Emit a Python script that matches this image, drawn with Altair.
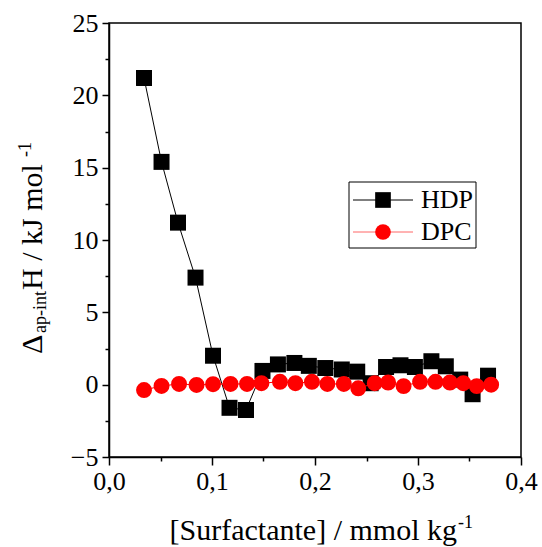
import altair as alt
import pandas as pd

hdp_x = [0.034, 0.051, 0.067, 0.084, 0.101, 0.117, 0.133, 0.149, 0.164, 0.180, 0.194, 0.210,
         0.226, 0.241, 0.254, 0.269, 0.283, 0.297, 0.313, 0.327, 0.341, 0.353, 0.368]
hdp_y = [21.2, 15.4, 11.2, 7.4, 2.0, -1.6, -1.75, 0.95, 1.4, 1.5, 1.3, 1.15,
         1.05, 0.9, 0.1, 1.22, 1.34, 1.22, 1.62, 1.27, 0.35, -0.66, 0.62]

dpc_x = [0.034, 0.051, 0.068, 0.085, 0.101, 0.118, 0.134, 0.148, 0.166, 0.181, 0.197, 0.212,
         0.228, 0.242, 0.258, 0.271, 0.286, 0.302, 0.317, 0.331, 0.344, 0.357, 0.371]
dpc_y = [-0.37, -0.09, 0.05, -0.02, 0.03, 0.05, 0.05, 0.1, 0.2, 0.1, 0.2, 0.05,
         0.05, -0.25, 0.1, 0.15, -0.1, 0.2, 0.2, 0.15, 0.1, -0.1, 0.0]

x_ticks = [0.0, 0.05, 0.1, 0.15, 0.2, 0.25, 0.3, 0.35, 0.4]
y_ticks = [-5, -2.5, 0, 2.5, 5, 7.5, 10, 12.5, 15, 17.5, 20, 22.5, 25]

FONT = "Liberation Serif"

hdp = pd.DataFrame({"x": hdp_x, "y": hdp_y, "i": range(len(hdp_x))})
dpc = pd.DataFrame({"x": dpc_x, "y": dpc_y, "i": range(len(dpc_x))})

x_major = "abs(datum.value*10 - round(datum.value*10)) < 0.001"
y_major = "abs(datum.value/5 - round(datum.value/5)) < 0.001"

xenc = alt.X("x:Q", scale=alt.Scale(domain=[0, 0.4], nice=False, zero=False),
             axis=alt.Axis(values=x_ticks, title=None, grid=False,
                           labelExpr=f"{x_major} ? replace(format(datum.value, '.1f'), '.', ',') : ''",
                           tickSize={"condition": {"test": x_major, "value": 8}, "value": 4},
                           labelFont=FONT, labelFontSize=26, labelColor="black",
                           labelPadding=3, tickColor="black", tickWidth=1.5,
                           domainColor="black", domainWidth=1.5, labelFlush=False))
yenc = alt.Y("y:Q", scale=alt.Scale(domain=[-5, 25], nice=False, zero=False),
             axis=alt.Axis(values=y_ticks, title=None, grid=False,
                           labelExpr=f"{y_major} ? format(datum.value, 'd') : ''",
                           tickSize={"condition": {"test": y_major, "value": 7}, "value": 4},
                           labelFont=FONT, labelFontSize=26, labelColor="black",
                           labelPadding=4, tickColor="black", tickWidth=1.5,
                           domainColor="black", domainWidth=1.5, labelFlush=False))

hdp_line = alt.Chart(hdp).mark_line(color="black", strokeWidth=1).encode(x=xenc, y=yenc, order="i:Q")
hdp_pts = alt.Chart(hdp).mark_point(shape="square", filled=True, color="black", size=256, opacity=1).encode(x=xenc, y=yenc)
dpc_line = alt.Chart(dpc).mark_line(color="red", strokeWidth=1).encode(x=xenc, y=yenc, order="i:Q")
dpc_pts = alt.Chart(dpc).mark_point(shape="circle", filled=True, color="red", size=254, opacity=1).encode(x=xenc, y=yenc)

one = alt.Data(values=[{"a": 1}])

def txt(text, x, y, size, angle=0, align="left", baseline="alphabetic"):
    kw = dict(text=text, font=FONT, fontSize=size, color="black", align=align, baseline=baseline)
    if angle:
        kw["angle"] = angle
    return alt.Chart(one).mark_text(**kw).encode(x=alt.value(x), y=alt.value(y))

# legend (pixel offsets within plot area: origin at (109, 23))
legend_box = alt.Chart(one).mark_rect(fill="white", stroke="black", strokeWidth=1).encode(
    x=alt.value(240), x2=alt.value(367), y=alt.value(159), y2=alt.value(225))
leg_l1 = alt.Chart(one).mark_rule(color="black", strokeWidth=1).encode(
    x=alt.value(244), x2=alt.value(304), y=alt.value(177))
leg_p1 = alt.Chart(one).mark_point(shape="square", filled=True, color="black", size=246, opacity=1).encode(
    x=alt.value(274), y=alt.value(177))
leg_l2 = alt.Chart(one).mark_rule(color="red", strokeWidth=1, opacity=0.6).encode(
    x=alt.value(244), x2=alt.value(304), y=alt.value(209))
leg_p2 = alt.Chart(one).mark_point(shape="circle", filled=True, color="red", size=246, opacity=1).encode(
    x=alt.value(274), y=alt.value(209))
leg_t1 = txt("HDP", 312, 177, 26, baseline="middle")
leg_t2 = txt("DPC", 312, 209, 26, baseline="middle")

# x axis title
xt_main = txt("[Surfactante] / mmol kg", 348, 517, 30, align="right")
xt_sup = txt("-1", 349, 505, 18)

# y axis title (rotated)
yt_delta = txt("\u0394", -67, 331, 30, angle=270)
yt_sub = txt("ap-int", -63, 310, 18, angle=270)
yt_main = txt("H / kJ mol", -67, 267, 30, angle=270)
yt_sup = txt("-1", -78, 134, 18, angle=270)

chart = alt.layer(
    hdp_line, hdp_pts, dpc_line, dpc_pts,
    legend_box, leg_l1, leg_p1, leg_l2, leg_p2, leg_t1, leg_t2,
    xt_main, xt_sup, yt_delta, yt_sub, yt_main, yt_sup,
).properties(
    width=412, height=434,
    autosize=alt.AutoSizeParams(type="none"),
    padding={"left": 109, "top": 23, "right": 21, "bottom": 90},
    background="white",
).configure_view(
    stroke="black", strokeWidth=1.5
).configure_axis(
    labelFont=FONT, labelFontSize=26, labelColor="black"
)

chart.save("out.html", embed_options={"renderer": "svg", "actions": False})
